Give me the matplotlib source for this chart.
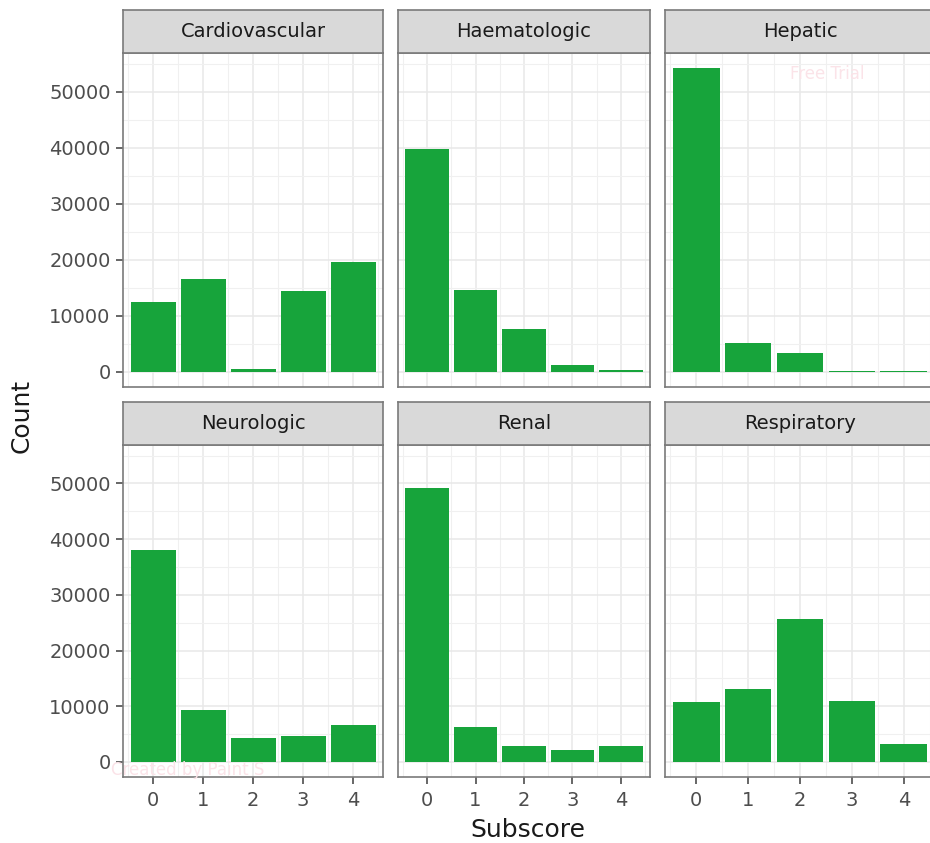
import matplotlib
matplotlib.use('Agg')
import matplotlib.pyplot as plt

# Counts per subscore for each organ system
groups = ['Cardiovascular', 'Haematologic', 'Hepatic', 'Neurologic', 'Renal', 'Respiratory']
subscore = [0, 1, 2, 3, 4]
cardiovascular = [12550, 16500, 500, 14350, 19650]
haematologic = [39800, 14650, 7650, 1200, 250]
hepatic = [54200, 5100, 3350, 150, 150]
neurologic = [38100, 9250, 4250, 4700, 6700]
renal = [49100, 6350, 2800, 2150, 2800]
respiratory = [10700, 13150, 25600, 11000, 3300]
counts = [cardiovascular, haematologic, hepatic, neurologic, renal, respiratory]

y_ticks = [0, 10000, 20000, 30000, 40000, 50000]
bar_color = '#17a43b'
border_color = '#7a7a7a'

W, H = 930, 843
fig = plt.figure(figsize=(W / 100, H / 100), dpi=100)
fig.patch.set_facecolor('white')


def px_axes(x0, y0, x1, y1):
    # add axes from pixel box (top-left origin)
    return fig.add_axes([x0 / W, 1 - y1 / H, (x1 - x0) / W, (y1 - y0) / H])


cols = [(123, 383), (398, 650), (665, 935)]
rows = [((10, 53), (53, 387)), ((402, 445), (445, 777))]

ymax = max(max(c) for c in counts)
ylim = (-0.05 * ymax, 1.05 * ymax)

for i, (name, vals) in enumerate(zip(groups, counts)):
    r, c = divmod(i, 3)
    (sy0, sy1), (py0, py1) = rows[r]
    x0, x1 = cols[c]

    # panel
    ax = px_axes(x0, py0, x1, py1)
    ax.set_axisbelow(True)
    ax.bar(subscore, vals, width=0.9, color=bar_color)
    ax.set_xlim(-0.6, 4.6)
    ax.set_ylim(*ylim)
    ax.set_xticks(subscore)
    ax.set_xticks([-0.5, 0.5, 1.5, 2.5, 3.5, 4.5], minor=True)
    ax.set_yticks(y_ticks)
    ax.set_yticks([5000, 15000, 25000, 35000, 45000, 55000], minor=True)
    ax.grid(which='major', color='#e8e8e8', lw=1.1)
    ax.grid(which='minor', color='#f0f0f0', lw=0.8)
    ax.tick_params(which='minor', length=0)
    ax.tick_params(which='major', length=5, width=1.2, color='#4d4d4d',
                   labelsize=14, labelcolor='#4d4d4d', pad=4)
    ax.tick_params(axis='x', pad=5)
    for sp in ax.spines.values():
        sp.set_color(border_color)
        sp.set_linewidth(1.2)
    if c != 0:
        ax.tick_params(left=False, labelleft=False)
    if r == 0:
        ax.tick_params(bottom=False, labelbottom=False)

    # strip
    st = px_axes(x0, sy0, x1, sy1)
    st.set_facecolor('#d9d9d9')
    st.set_xticks([])
    st.set_yticks([])
    for sp in st.spines.values():
        sp.set_color(border_color)
        sp.set_linewidth(1.2)
    st.text(0.5, 0.5, name, transform=st.transAxes, ha='center', va='center',
            fontsize=14, color='#1a1a1a')

fig.text(22 / W, 1 - 416 / H, 'Count', rotation=90, ha='center', va='center',
         fontsize=18, color='#1a1a1a')
fig.text(528 / W, 1 - 830 / H, 'Subscore', ha='center', va='center',
         fontsize=18, color='#1a1a1a')

# faint watermark left in the source image
fig.text(827 / W, 1 - 74 / H, 'Free Trial', ha='center', va='center',
         fontsize=12, color='#fbe3e8', zorder=10)
fig.text(188 / W, 1 - 770 / H, 'Created by Paint S', ha='center', va='center',
         fontsize=12, color='#fbe3e8', zorder=10)

plt.savefig('out.png', dpi=100)
plt.close(fig)
